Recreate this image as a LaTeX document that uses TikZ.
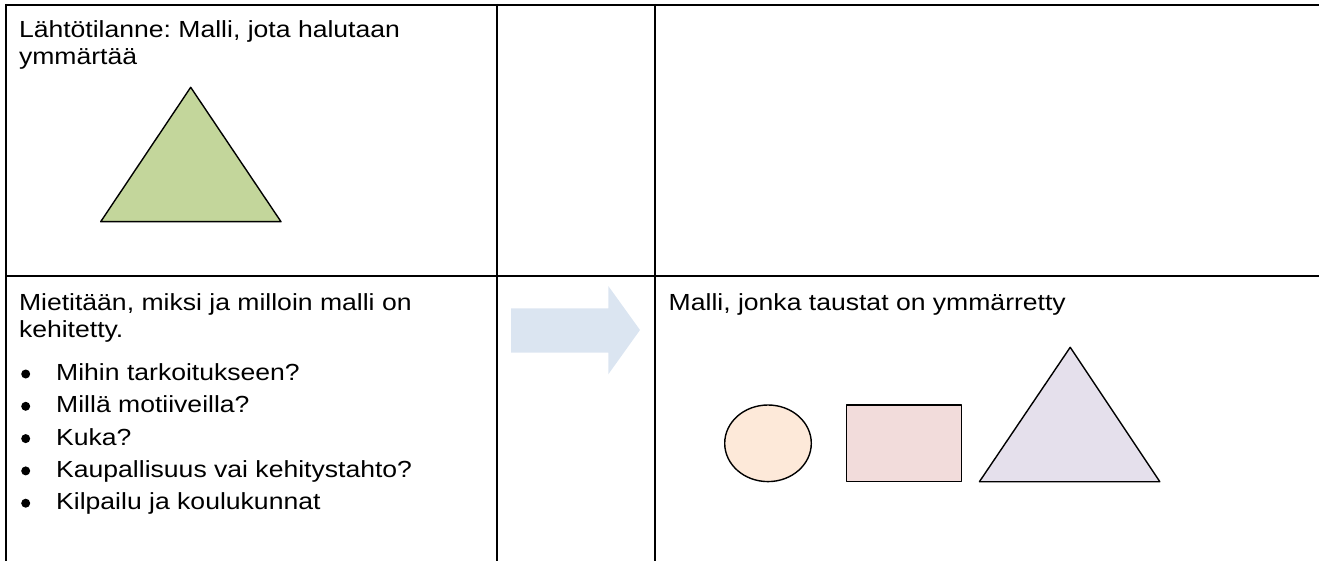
\documentclass[tikz,border=0pt]{standalone}
\usepackage{fontspec}
\setmainfont[FakeStretch=1.14]{Liberation Sans}
\frenchspacing
\definecolor{greenfill}{HTML}{C3D69B}
\definecolor{orangefill}{HTML}{FDE9D9}
\definecolor{redfill}{HTML}{F2DCDB}
\definecolor{purplefill}{HTML}{E5E0EC}
\definecolor{arrowblue}{HTML}{DBE5F1}
\tikzset{
  gridline/.style={line width=2pt},
  shapeline/.style={line width=1.4pt, line join=round},
  celltext/.style={anchor=base west, inner sep=0pt, font=\fontsize{23.3}{27.5}\selectfont},
  bulletdot/.style={circle, fill=black, inner sep=0pt, minimum size=9pt}
}
\begin{document}
\begin{tikzpicture}[x=1pt, y=-1pt]
        \useasboundingbox (0,0) rectangle (1319,561);
        % table lines
        \draw[gridline] (5,5) -- (1319,5);
        \draw[gridline] (5,275.7) -- (1319,275.7);
        \draw[gridline] (6,4) -- (6,561);
        \draw[gridline] (497,4) -- (497,561);
        \draw[gridline] (655,4) -- (655,561);
        % top left cell
        \node[celltext] (start1) at (18.8,37.3) {Lähtötilanne: Malli, jota halutaan};
        \node[celltext] (start2) at (18.8,65) {ymmärtää};
        \draw[shapeline, fill=greenfill] (100.7,221.7) -- (190.7,87.3) -- (281,221.7) -- cycle;
        % bottom left cell
        \node[celltext] (think1) at (18.8,310) {Mietitään, miksi ja milloin malli on};
        \node[celltext] (think2) at (18.8,337.5) {kehitetty.};
        \foreach \txt [count=\i from 0] in {Mihin tarkoitukseen?, Millä motiiveilla?, Kuka?, Kaupallisuus vai kehitystahto?, Kilpailu ja koulukunnat}{
          \node[bulletdot] (dot\i) at (25.7,374+32.3*\i) {};
          \node[celltext] (item\i) at (56,380.5+32.3*\i) {\txt};
        }
        % arrow
        \fill[arrowblue] (511,308.3) -- (608.3,308.3) -- (608.3,286) -- (640,330)
          -- (608.3,374.3) -- (608.3,352.7) -- (511,352.7) -- cycle;
        % bottom right cell
        \node[celltext] (result) at (668.5,310) {Malli, jonka taustat on ymmärretty};
        \draw[shapeline, fill=orangefill] (768,443.3) ellipse [x radius=43.3, y radius=38.3];
        \draw[shapeline, fill=redfill] (846.2,405) rectangle (961.4,481.7);
        \draw[shapeline, fill=purplefill] (979.4,481.7) -- (1070.2,347.3) -- (1159.8,481.7) -- cycle;
\end{tikzpicture}
\end{document}
